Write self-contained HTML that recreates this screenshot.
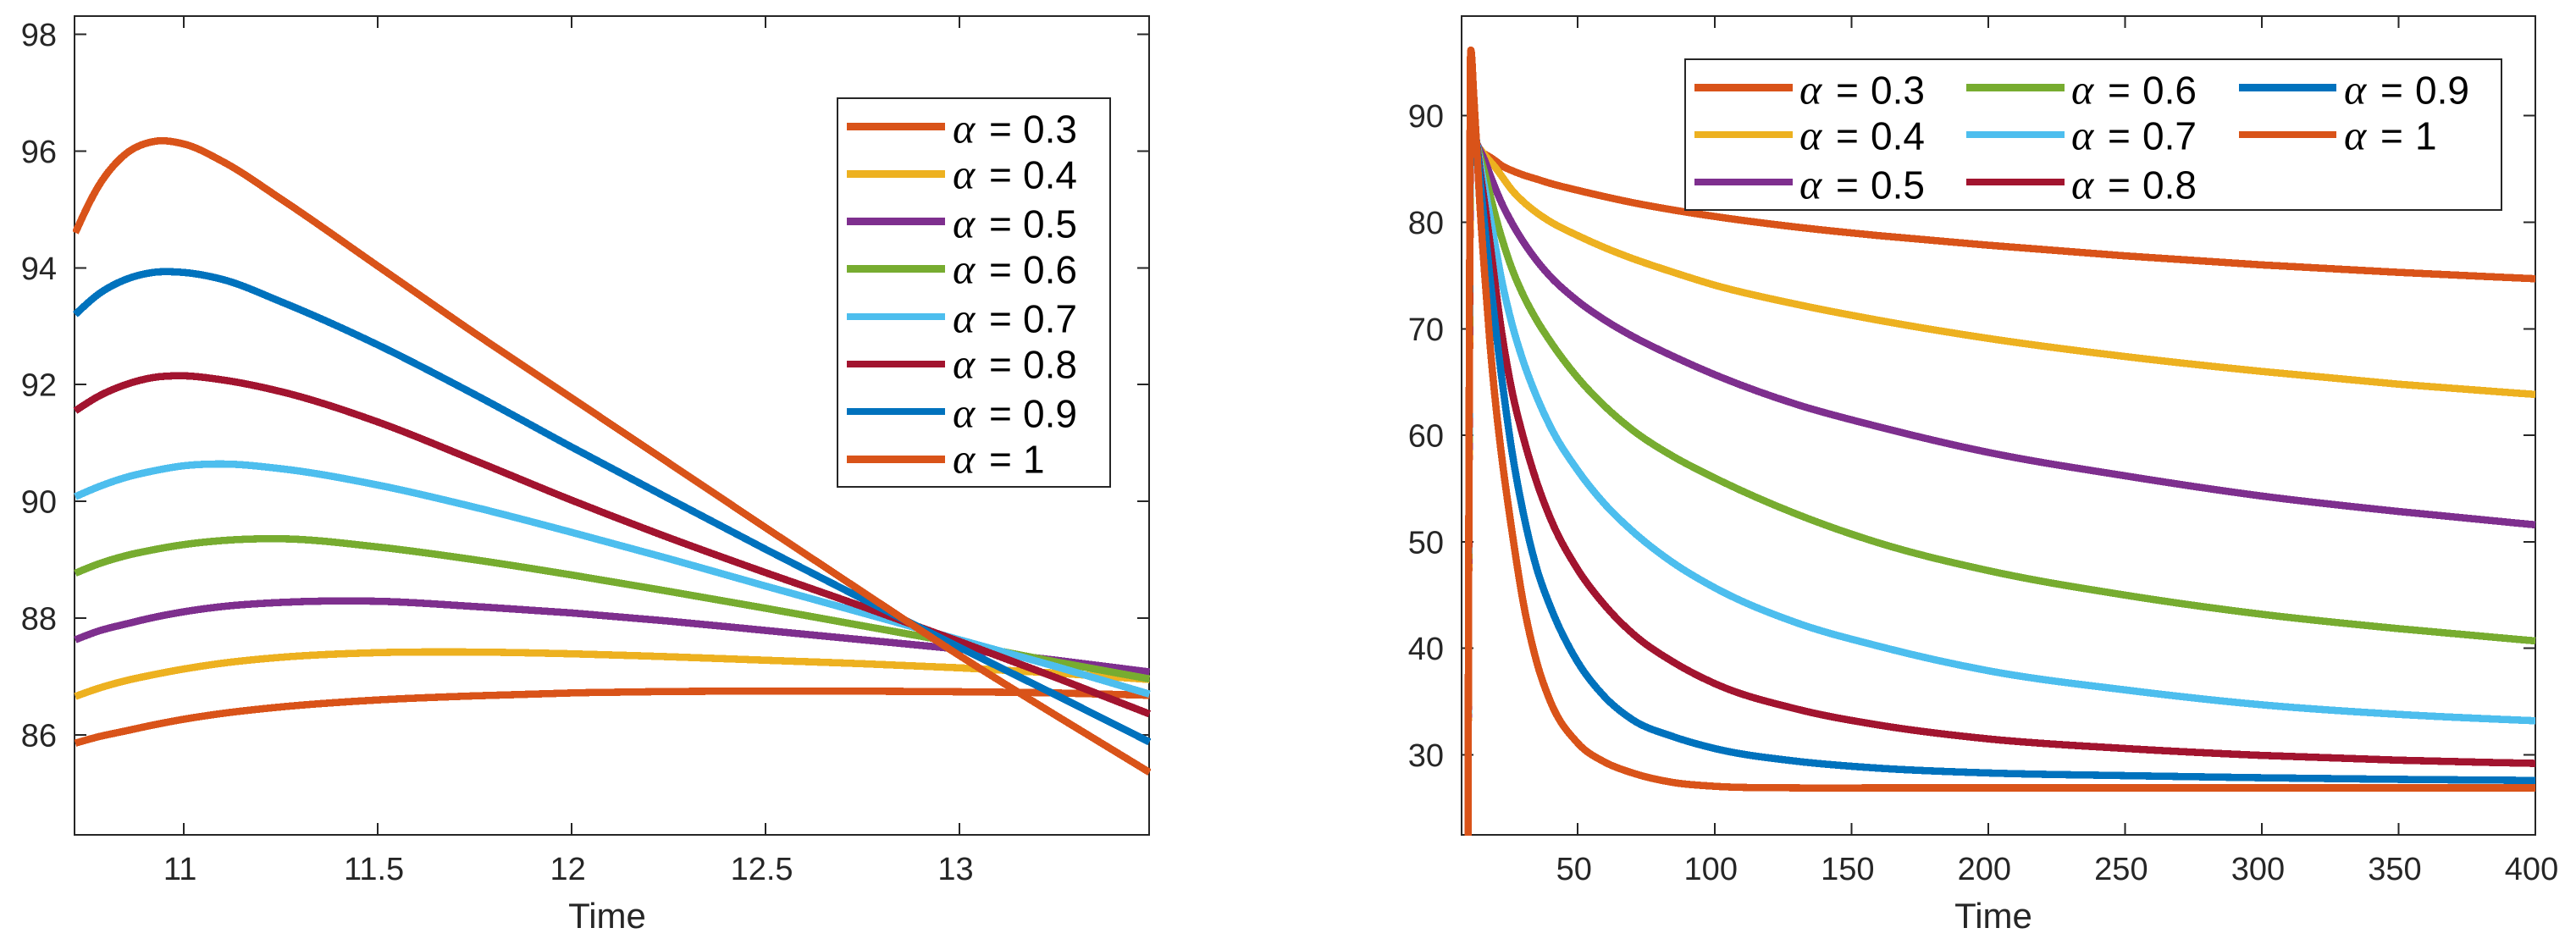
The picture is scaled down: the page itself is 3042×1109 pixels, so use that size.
<!DOCTYPE html>
<html lang="en">
<head>
<meta charset="utf-8">
<title>Fractional order curves over time</title>
<style>
html,body{margin:0;padding:0;background:#fff;}
svg{display:block;}
text{font-family:"Liberation Sans",sans-serif;}
.tick-label{font-size:38px;fill:#262626;}
.axis-title{font-size:42px;fill:#262626;}
.leg{font-size:46px;fill:#000;}
.leg .a{font-family:"Liberation Serif",serif;font-style:italic;font-size:50px;}
</style>
</head>
<body>
<svg id="fig" xmlns="http://www.w3.org/2000/svg" width="3042" height="1109" viewBox="0 0 3042 1109">
  <rect width="3042" height="1109" fill="#fff"/>
  <defs>
    <clipPath id="clip-left"><rect x="86" y="17" width="1273" height="970"/></clipPath>
    <clipPath id="clip-right"><rect x="1724" y="17" width="1272" height="970"/></clipPath>
  </defs>
  <g id="left-axes"></g>
  <g id="right-axes"></g>
  <g id="left-lines" clip-path="url(#clip-left)"></g>
  <g id="right-lines" clip-path="url(#clip-right)"></g>

  <g shape-rendering="crispEdges">
    <rect x="989" y="116" width="322" height="459" fill="#fff" stroke="#262626" stroke-width="2"/>
    <line x1="1000" x2="1116" y1="149.5" y2="149.5" stroke="#D95319" stroke-width="9"/>
    <line x1="1000" x2="1116" y1="205.5" y2="205.5" stroke="#EDB120" stroke-width="9"/>
    <line x1="1000" x2="1116" y1="261.5" y2="261.5" stroke="#7E2F8E" stroke-width="9"/>
    <line x1="1000" x2="1116" y1="317.5" y2="317.5" stroke="#77AC30" stroke-width="9"/>
    <line x1="1000" x2="1116" y1="374" y2="374" stroke="#4DBEEE" stroke-width="8"/>
    <line x1="1000" x2="1116" y1="430" y2="430" stroke="#A2142F" stroke-width="8"/>
    <line x1="1000" x2="1116" y1="486" y2="486" stroke="#0072BD" stroke-width="8"/>
    <line x1="1000" x2="1116" y1="542.5" y2="542.5" stroke="#D95319" stroke-width="9"/>
  </g>
  <g>
    <text class="leg" y="168.3"><tspan class="a" x="1125">α</tspan><tspan x="1168">=</tspan><tspan x="1208">0.3</tspan></text>
    <text class="leg" y="222.3"><tspan class="a" x="1125">α</tspan><tspan x="1168">=</tspan><tspan x="1208">0.4</tspan></text>
    <text class="leg" y="280.3"><tspan class="a" x="1125">α</tspan><tspan x="1168">=</tspan><tspan x="1208">0.5</tspan></text>
    <text class="leg" y="334.3"><tspan class="a" x="1125">α</tspan><tspan x="1168">=</tspan><tspan x="1208">0.6</tspan></text>
    <text class="leg" y="392.3"><tspan class="a" x="1125">α</tspan><tspan x="1168">=</tspan><tspan x="1208">0.7</tspan></text>
    <text class="leg" y="446.7"><tspan class="a" x="1125">α</tspan><tspan x="1168">=</tspan><tspan x="1208">0.8</tspan></text>
    <text class="leg" y="504.3"><tspan class="a" x="1125">α</tspan><tspan x="1168">=</tspan><tspan x="1208">0.9</tspan></text>
    <text class="leg" y="558.3"><tspan class="a" x="1125">α</tspan><tspan x="1168">=</tspan><tspan x="1208">1</tspan></text>
  </g>

  <g shape-rendering="crispEdges">
    <rect x="1990" y="70" width="964" height="178" fill="#fff" stroke="#262626" stroke-width="2"/>
    <line x1="2001" x2="2117" y1="103.5" y2="103.5" stroke="#D95319" stroke-width="9"/>
    <line x1="2001" x2="2117" y1="159" y2="159" stroke="#EDB120" stroke-width="8"/>
    <line x1="2001" x2="2117" y1="215" y2="215" stroke="#7E2F8E" stroke-width="8"/>
    <line x1="2322" x2="2438" y1="103.5" y2="103.5" stroke="#77AC30" stroke-width="9"/>
    <line x1="2322" x2="2438" y1="159" y2="159" stroke="#4DBEEE" stroke-width="8"/>
    <line x1="2322" x2="2438" y1="215" y2="215" stroke="#A2142F" stroke-width="8"/>
    <line x1="2644" x2="2759" y1="103.5" y2="103.5" stroke="#0072BD" stroke-width="9"/>
    <line x1="2644" x2="2759" y1="159" y2="159" stroke="#D95319" stroke-width="8"/>
  </g>
  <g>
    <text class="leg" y="122.3"><tspan class="a" x="2125">α</tspan><tspan x="2168">=</tspan><tspan x="2209">0.3</tspan></text>
    <text class="leg" y="176.3"><tspan class="a" x="2125">α</tspan><tspan x="2168">=</tspan><tspan x="2209">0.4</tspan></text>
    <text class="leg" y="234.3"><tspan class="a" x="2125">α</tspan><tspan x="2168">=</tspan><tspan x="2209">0.5</tspan></text>
    <text class="leg" y="122.3"><tspan class="a" x="2446">α</tspan><tspan x="2489">=</tspan><tspan x="2530">0.6</tspan></text>
    <text class="leg" y="176.3"><tspan class="a" x="2446">α</tspan><tspan x="2489">=</tspan><tspan x="2530">0.7</tspan></text>
    <text class="leg" y="234.3"><tspan class="a" x="2446">α</tspan><tspan x="2489">=</tspan><tspan x="2530">0.8</tspan></text>
    <text class="leg" y="122.3"><tspan class="a" x="2768">α</tspan><tspan x="2811">=</tspan><tspan x="2852">0.9</tspan></text>
    <text class="leg" y="176.3"><tspan class="a" x="2768">α</tspan><tspan x="2811">=</tspan><tspan x="2852">1</tspan></text>
  </g>
</svg>
<script>
// ---- chart data ----
const alphaNames = ['0.3','0.4','0.5','0.6','0.7','0.8','0.9','1'];
const seriesColors = ['#D95319','#EDB120','#7E2F8E','#77AC30','#4DBEEE','#A2142F','#0072BD','#D95319'];

const leftXTicks = [11,11.5,12,12.5,13];
const leftYTicks = [86,88,90,92,94,96,98];
const rightXTicks = [50,100,150,200,250,300,350,400];
const rightYTicks = [30,40,50,60,70,80,90];

const leftTime = [10.72,10.78,10.85,10.92,11,11.1,11.25,11.5,11.75,12,12.25,12.5,12.75,13,13.25,13.49];
const leftA03 = [85.86,85.97,86.07,86.17,86.27,86.37,86.48,86.6,86.67,86.72,86.745,86.75,86.75,86.74,86.72,86.68];
const leftA04 = [86.66,86.8,86.93,87.03,87.13,87.23,87.33,87.41,87.42,87.39,87.34,87.28,87.22,87.15,87.06,86.95];
const leftA05 = [87.63,87.78,87.9,88.01,88.11,88.2,88.27,88.29,88.2,88.09,87.95,87.79,87.63,87.47,87.28,87.08];
const leftA06 = [88.77,88.93,89.07,89.17,89.26,89.33,89.36,89.22,89.0,88.74,88.46,88.17,87.87,87.57,87.25,86.96];
const leftA07 = [90.08,90.25,90.41,90.52,90.61,90.64,90.56,90.28,89.9,89.47,89.02,88.55,88.09,87.63,87.17,86.7];
const leftA08 = [91.55,91.8,92.0,92.12,92.15,92.08,91.88,91.36,90.7,90.02,89.38,88.78,88.2,87.6,86.98,86.36];
const leftA09 = [93.2,93.55,93.8,93.92,93.92,93.8,93.42,92.68,91.83,90.93,90.05,89.18,88.33,87.5,86.68,85.88];
const leftA10 = [94.6,95.4,95.95,96.16,96.12,95.82,95.18,94.03,92.88,91.77,90.66,89.55,88.45,87.36,86.33,85.36];

const rightTime = [9.85,10.72,10.92,12,13,14,16,18,20,22,26,30,35,40,50,60,70,85,100,130,160,200,250,300,350,400];
const rightA03 = [20,85.86,86.17,86.72,86.74,86.7,86.4,86.1,85.75,85.35,84.85,84.45,84.05,83.65,83,82.4,81.85,81.15,80.55,79.55,78.75,77.85,76.85,76,75.3,74.7];
const rightA04 = [20,86.66,87.03,87.39,87.15,86.95,86.3,85.7,85.1,84.4,83,81.95,80.9,80.05,78.75,77.6,76.6,75.3,74.1,72.3,70.8,69.1,67.4,66,64.8,63.84];
const rightA05 = [20,87.63,88.01,88.09,87.47,86.9,85.8,84.4,83.1,81.9,79.9,78.2,76.4,74.9,72.6,70.8,69.3,67.4,65.7,62.9,60.8,58.4,56.2,54.3,52.85,51.6];
const rightA06 = [20,88.77,89.17,88.74,87.57,86.5,84.6,82.5,80.5,78.7,75.6,73.2,70.8,68.8,65.4,62.7,60.5,58,56,52.6,49.9,47.3,45,43.2,41.85,40.7];
const rightA07 = [20,90.08,90.52,89.47,87.63,86,83.2,80.4,77.6,74.8,70.4,67,63.6,60.8,56.7,53.5,51,48,45.7,42.4,40.2,37.9,36.1,34.7,33.8,33.2];
const rightA08 = [20,91.55,92.12,90.02,87.6,85.4,81.7,77.9,73.8,70,64.1,59.9,55.6,52.2,47.4,44,41.4,38.7,36.7,34.3,32.8,31.5,30.6,29.95,29.5,29.2];
const rightA09 = [20,93.2,93.92,90.93,87.5,84.8,79.6,74.6,70,65.8,58.4,52.8,47.5,43.9,38.7,35.4,33.3,31.7,30.6,29.4,28.75,28.3,28.05,27.85,27.7,27.6];
const rightA10 = [20,94.6,96.16,91.77,87.36,82.6,75,68.3,62.9,58.4,50.9,44.4,38.7,35,31.1,29.3,28.3,27.4,27.05,26.9,26.9,26.9,26.9,26.9,26.9,26.9];

const leftSeries = [leftA03,leftA04,leftA05,leftA06,leftA07,leftA08,leftA09,leftA10];
const rightSeries = [rightA03,rightA04,rightA05,rightA06,rightA07,rightA08,rightA09,rightA10];

// ---- drawing ----
const NS = 'http://www.w3.org/2000/svg';
function linear(d0, d1, r0, r1) {
  return function (v) { return r0 + (v - d0) * (r1 - r0) / (d1 - d0); };
}
function make(tag, parent, attrs) {
  const el = document.createElementNS(NS, tag);
  for (const k in attrs) el.setAttribute(k, attrs[k]);
  parent.appendChild(el);
  return el;
}
// Cubic path through knots. Knots before limitUntil use a monotone limiter
// (for the sharp spike); the rest use three-point parabolic tangents.
function smoothPath(xs, ys, limitUntil) {
  const n = xs.length, h = [], s = [], m = new Array(n);
  for (let i = 0; i < n - 1; i++) {
    h[i] = xs[i + 1] - xs[i];
    s[i] = (ys[i + 1] - ys[i]) / h[i];
  }
  for (let i = 1; i < n - 1; i++) {
    const p = (h[i] * s[i - 1] + h[i - 1] * s[i]) / (h[i - 1] + h[i]);
    if (i < limitUntil) {
      m[i] = (Math.sign(s[i - 1]) + Math.sign(s[i])) *
        Math.min(Math.abs(s[i - 1]), Math.abs(s[i]), 0.5 * Math.abs(p));
    } else {
      m[i] = p;
    }
  }
  m[0] = limitUntil > 0 ? s[0] : (3 * s[0] - m[1]) / 2;
  m[n - 1] = (3 * s[n - 2] - m[n - 2]) / 2;
  let d = 'M' + xs[0].toFixed(2) + ' ' + ys[0].toFixed(2);
  for (let i = 0; i < n - 1; i++) {
    const c = h[i] / 3;
    d += 'C' + (xs[i] + c).toFixed(2) + ' ' + (ys[i] + m[i] * c).toFixed(2) + ' ' +
      (xs[i + 1] - c).toFixed(2) + ' ' + (ys[i + 1] - m[i + 1] * c).toFixed(2) + ' ' +
      xs[i + 1].toFixed(2) + ' ' + ys[i + 1].toFixed(2);
  }
  return d;
}
function drawAxes(prefix, group, x, y, box, xTicks, yTicks, titleX) {
  const frame = make('rect', group, {x: box.l, y: box.t, width: box.r - box.l, height: box.b - box.t, fill: 'none', stroke: '#262626', 'stroke-width': 2, 'shape-rendering': 'crispEdges'});
  
  
  xTicks.forEach(function (t) {
    const px = x(t);
    const tb = make('line', group, {x1: px, x2: px, y1: box.b, y2: box.b - 14, stroke: '#262626', 'stroke-width': 2, 'shape-rendering': 'crispEdges'});
    
    
    const tt = make('line', group, {x1: px, x2: px, y1: box.t, y2: box.t + 14, stroke: '#262626', 'stroke-width': 2, 'shape-rendering': 'crispEdges'});
    
    
    const lab = make('text', group, {x: px - 4.5, y: 1039, 'text-anchor': 'middle', class: 'tick-label'});
    
    
    lab.textContent = String(t);
  });
  yTicks.forEach(function (v) {
    const py = y(v);
    const tl = make('line', group, {x1: box.l, x2: box.l + 14, y1: py, y2: py, stroke: '#262626', 'stroke-width': 2, 'shape-rendering': 'crispEdges'});
    
    
    const tr = make('line', group, {x1: box.r, x2: box.r - 14, y1: py, y2: py, stroke: '#262626', 'stroke-width': 2, 'shape-rendering': 'crispEdges'});
    
    
    const lab = make('text', group, {x: box.l - 21, y: py + 13.5, 'text-anchor': 'end', class: 'tick-label'});
    
    
    lab.textContent = String(v);
  });
  const title = make('text', group, {x: titleX, y: 1096, 'text-anchor': 'middle', class: 'axis-title'});
  
  
  title.textContent = 'Time';
}
function drawLines(prefix, group, x, y, time, series, limitUntil) {
  const xs = time.map(x);
  series.forEach(function (vals, i) {
    const p = make('path', group, {d: smoothPath(xs, vals.map(y), limitUntil), fill: 'none', stroke: seriesColors[i], 'stroke-width': 8.6, 'stroke-linecap': 'butt', 'stroke-linejoin': 'round', 'shape-rendering': 'crispEdges'});
    
    
  });
}
const leftBox = {l: 88, r: 1357, t: 19, b: 986};
const rightBox = {l: 1726, r: 2994, t: 19, b: 986};
const lx = linear(10.718, 13.489, leftBox.l, leftBox.r);
const ly = linear(84.29, 98.31, leftBox.b, leftBox.t);
const rx = linear(7.53, 400, rightBox.l, rightBox.r);
const ry = linear(22.49, 99.36, rightBox.b, rightBox.t);
drawAxes('left', document.getElementById('left-axes'), lx, ly, leftBox, leftXTicks, leftYTicks, 717);
drawAxes('right', document.getElementById('right-axes'), rx, ry, rightBox, rightXTicks, rightYTicks, 2354);
drawLines('left', document.getElementById('left-lines'), lx, ly, leftTime, leftSeries, 0);
drawLines('right', document.getElementById('right-lines'), rx, ry, rightTime, rightSeries, 6);
</script>
</body>
</html>
